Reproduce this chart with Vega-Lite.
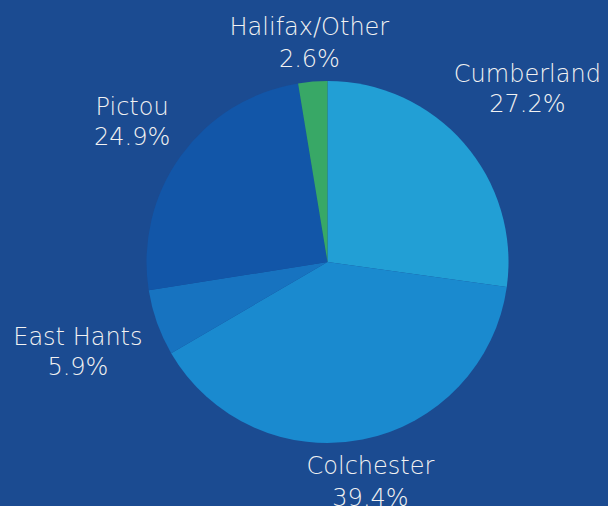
{
  "$schema": "https://vega.github.io/schema/vega-lite/v6.json",
  "width": 561,
  "height": 488,
  "autosize": "none",
  "padding": {"left": 47, "top": 18, "right": 0, "bottom": 0},
  "background": "#1b4b91",
  "config": {"view": {"stroke": null}},
  "data": {
    "values": [
      {"region": "Cumberland", "pct": 27.2, "rank": 1, "label": ["Cumberland", "27.2%"]},
      {"region": "Colchester", "pct": 39.4, "rank": 2, "label": ["Colchester", "39.4%"]},
      {"region": "East Hants", "pct": 5.9, "rank": 3, "label": ["East Hants", "5.9%"]},
      {"region": "Pictou", "pct": 24.9, "rank": 4, "label": ["Pictou", "24.9%"]},
      {"region": "Halifax/Other", "pct": 2.6, "rank": 5, "label": ["Halifax/Other", "2.6%"]}
    ]
  },
  "encoding": {
    "theta": {"field": "pct", "type": "quantitative", "stack": true},
    "order": {"field": "rank", "type": "quantitative"}
  },
  "layer": [
    {
      "mark": {"type": "arc", "outerRadius": 181, "stroke": null},
      "encoding": {
        "color": {
          "field": "region",
          "type": "nominal",
          "scale": {
            "domain": ["Cumberland", "Colchester", "East Hants", "Pictou", "Halifax/Other"],
            "range": ["#229fd5", "#1a8acf", "#1773c0", "#1256a8", "#38a866"]
          },
          "legend": null
        }
      }
    },
    {
      "mark": {
        "type": "text", "radius": 265, "dy": -13, "font": "DejaVu Sans", "fontSize": 24, "fontWeight": 300,
        "lineHeight": 30, "color": "#f2f2f2", "align": "center", "baseline": "middle"
      },
      "encoding": {
        "text": {"field": "label"},
        "opacity": {"condition": {"test": "datum.rank == 1 || datum.rank == 3", "value": 1}, "value": 0}
      }
    },
    {
      "mark": {
        "type": "text", "radius": 241, "dy": -13, "font": "DejaVu Sans", "fontSize": 24, "fontWeight": 300,
        "lineHeight": 30, "color": "#f2f2f2", "align": "center", "baseline": "middle"
      },
      "encoding": {
        "text": {"field": "label"},
        "opacity": {"condition": {"test": "datum.rank == 4", "value": 1}, "value": 0}
      }
    },
    {
      "mark": {
        "type": "text", "radius": 222, "dy": -13, "font": "DejaVu Sans", "fontSize": 24, "fontWeight": 300,
        "lineHeight": 32, "color": "#f2f2f2", "align": "center", "baseline": "middle"
      },
      "encoding": {
        "text": {"field": "label"},
        "opacity": {"condition": {"test": "datum.rank == 2 || datum.rank == 5", "value": 1}, "value": 0}
      }
    }
  ]
}
